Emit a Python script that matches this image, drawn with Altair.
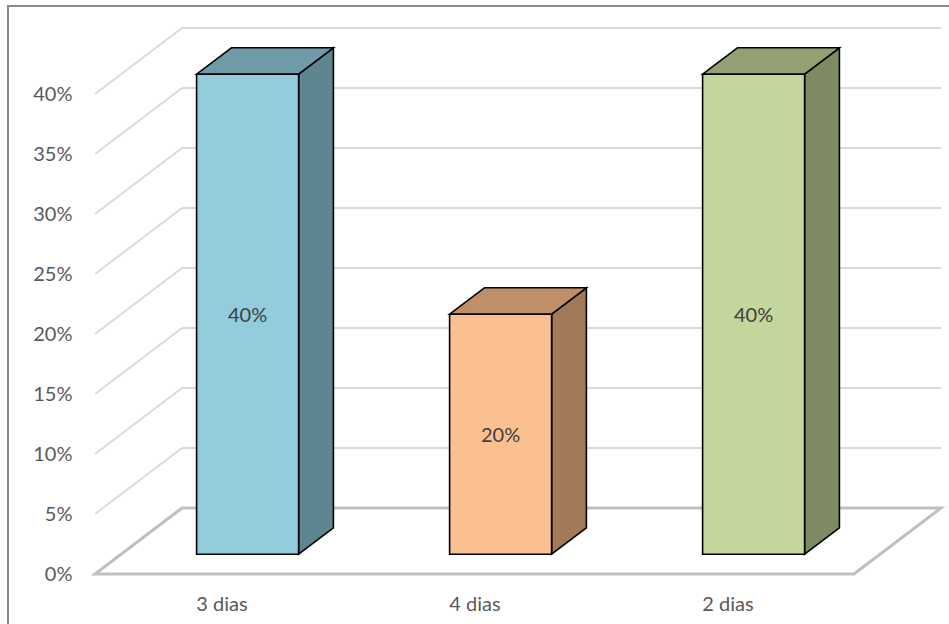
import json
import altair as alt
import pandas as pd

# ---------------- data ----------------
categories = ["3 dias", "4 dias", "2 dias"]
values = [40, 20, 40]
y_ticks = [0, 5, 10, 15, 20, 25, 30, 35, 40]

# ---------------- styles ----------------
front_colors = ["#93CDDD", "#FAC090", "#C3D69B"]
top_colors = ["#6E9BA7", "#BF8F69", "#93A072"]
side_colors = ["#5E8690", "#A27A59", "#7D8A62"]
FONT = "Lato"
FS = 20

# ---------------- layout ----------------
PAD_L, PAD_T = 8, 6
W, H = 949 - PAD_L, 624 - PAD_T
SLOT_PX = 253          # width of one category slot (px)
PX_PER_PCT = 12        # px per 1 %
X0_PX = 95 - PAD_L     # front floor left edge inside plot
Y0_PX = 574 - PAD_T    # front floor line inside plot
DX = 87 / SLOT_PX      # depth offset in slot units
DY = 66 / PX_PER_PCT   # depth offset in % units
BAR_W = 102 / SLOT_PX
D_FRONT, D_BACK = 0.3, 0.7
N = len(categories)
DD = D_BACK - D_FRONT

x_scale = alt.Scale(domain=[-X0_PX / SLOT_PX, (W - X0_PX) / SLOT_PX], nice=False, zero=False)
y_scale = alt.Scale(domain=[-(H - Y0_PX) / PX_PER_PCT, Y0_PX / PX_PER_PCT], nice=False, zero=False)

label_expr = json.dumps(categories) + "[floor(datum.value)]"
x_axis = alt.Axis(values=[i + 0.5 for i in range(N)], labelExpr=label_expr, title=None,
                  ticks=False, domain=False, grid=False, offset=-20, labelPadding=0,
                  labelBaseline="middle", labelFont=FONT, labelFontSize=FS,
                  labelColor="#595959", labelFlush=False, labelOverlap=False)
y_axis = alt.Axis(values=y_ticks, labelExpr="datum.value + '%'", title=None,
                  ticks=False, domain=False, grid=False, offset=-64, labelPadding=0,
                  labelAlign="right", labelBaseline="middle", labelFont=FONT,
                  labelFontSize=FS, labelColor="#595959", labelFlush=False,
                  labelOverlap=False)

X = lambda f="x": alt.X(f"{f}:Q", scale=x_scale, axis=x_axis)
Y = lambda f="y": alt.Y(f"{f}:Q", scale=y_scale, axis=y_axis)

# ---------------- floor ----------------
floor_df = pd.DataFrame([
    {"y": 0.0, "x": 0.0, "x2": float(N)},
    {"y": DY, "x": DX, "x2": N + DX},
])
floor = alt.Chart(floor_df).mark_area(
    orient="horizontal", fill="white", stroke="#BFBFBF", strokeWidth=3
).encode(y=Y(), x=X(), x2="x2:Q")

# ---------------- grid (back wall + left wall) ----------------
grid_rows = []
for v in y_ticks[1:]:
    grid_rows.append({"x": DX, "x2": N + DX, "y": v + DY, "y2": v + DY})
    grid_rows.append({"x": 0.0, "x2": DX, "y": float(v), "y2": v + DY})
grid = alt.Chart(pd.DataFrame(grid_rows)).mark_rule(
    color="#D9D9D9", strokeWidth=1.8
).encode(x=X(), x2="x2:Q", y=Y(), y2="y2:Q")

# ---------------- bars ----------------
front_rows, side_rows, top_rows, lab_rows = [], [], [], []
for i, (c, v) in enumerate(zip(categories, values)):
    xl = i + 0.5 - BAR_W / 2 + D_FRONT * DX
    xr = xl + BAR_W
    base = D_FRONT * DY
    top = v + base
    front_rows.append({"cat": c, "x": xl, "x2": xr, "y": base, "y2": top, "col": front_colors[i]})
    side_rows.append({"cat": c, "x": xr, "y": base, "y2": top, "col": side_colors[i]})
    side_rows.append({"cat": c, "x": xr + DD * DX, "y": base + DD * DY, "y2": top + DD * DY, "col": side_colors[i]})
    top_rows.append({"cat": c, "y": top, "x": xl, "x2": xr, "col": top_colors[i]})
    top_rows.append({"cat": c, "y": top + DD * DY, "x": xl + DD * DX, "x2": xr + DD * DX, "col": top_colors[i]})
    lab_rows.append({"cat": c, "x": (xl + xr) / 2, "y": base + v / 2, "txt": f"{v}%"})

side = alt.Chart(pd.DataFrame(side_rows)).mark_area(
    orient="vertical", stroke="black", strokeWidth=1.6, strokeJoin="miter"
).encode(x=X(), y=Y(), y2="y2:Q", color=alt.Color("col:N", scale=None), detail="cat:N")

topf = alt.Chart(pd.DataFrame(top_rows)).mark_area(
    orient="horizontal", stroke="black", strokeWidth=1.6, strokeJoin="miter"
).encode(y=Y(), x=X(), x2="x2:Q", color=alt.Color("col:N", scale=None), detail="cat:N")

front = alt.Chart(pd.DataFrame(front_rows)).mark_rect(
    stroke="black", strokeWidth=1.6
).encode(x=X(), x2="x2:Q", y=Y(), y2="y2:Q", color=alt.Color("col:N", scale=None))

labels = alt.Chart(pd.DataFrame(lab_rows)).mark_text(
    font=FONT, fontSize=FS, color="#404040", baseline="middle", align="center", dy=2
).encode(x=X(), y=Y(), text="txt:N")

# ---------------- outer border ----------------
border = alt.Chart(alt.Data(values=[{}])).mark_rect(
    fill="transparent", stroke="#898989", strokeWidth=2
).encode(x=alt.value(0), x2=alt.value(W + 20), y=alt.value(0), y2=alt.value(H + 20))

chart = alt.layer(floor, grid, side, topf, front, labels, border).properties(
    width=W, height=H,
    autosize=alt.AutoSizeParams(type="none"),
    padding={"left": PAD_L, "top": PAD_T, "right": 0, "bottom": 0},
    background="white",
).configure_view(stroke=None)

chart.save("out.html", embed_options={"renderer": "svg", "actions": False})
